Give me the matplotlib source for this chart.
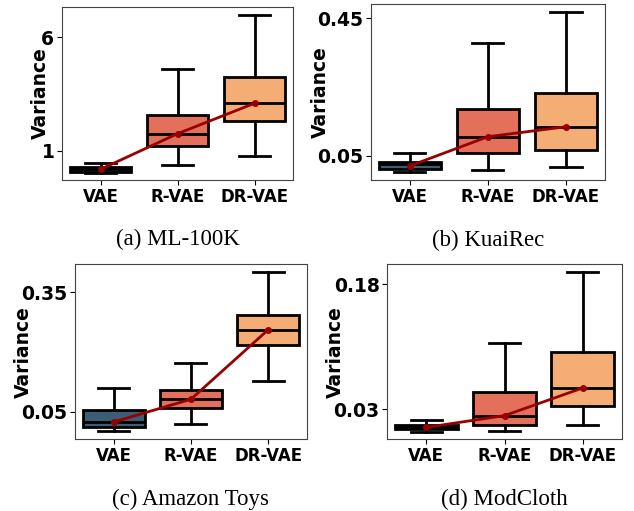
import numpy as np
import matplotlib
matplotlib.use('Agg')
import matplotlib.pyplot as plt

# five-number summaries per model
models = ['VAE', 'R-VAE', 'DR-VAE']
colors = ['#3d5d75', '#e3705a', '#f5ad76']

# (a) ML-100K
ml_whislo = [0.05, 0.37, 0.79]
ml_q1 = [0.09, 1.23, 2.33]
ml_med = [0.19, 1.76, 3.10]
ml_q3 = [0.31, 2.58, 4.26]
ml_whishi = [0.46, 4.61, 6.98]
ml_mean = [0.19, 1.76, 3.10]

# (b) KuaiRec
kr_whislo = [0.004, 0.009, 0.018]
kr_q1 = [0.012, 0.058, 0.068]
kr_med = [0.026, 0.106, 0.135]
kr_q3 = [0.032, 0.187, 0.232]
kr_whishi = [0.058, 0.379, 0.468]
kr_mean = [0.021, 0.106, 0.135]

# (c) Amazon Toys
az_whislo = [0.0, 0.019, 0.127]
az_q1 = [0.010, 0.059, 0.218]
az_med = [0.024, 0.081, 0.256]
az_q3 = [0.054, 0.1055, 0.2945]
az_whishi = [0.1105, 0.1735, 0.402]
az_mean = [0.024, 0.081, 0.256]

# (d) ModCloth
mc_whislo = [0.0032, 0.004, 0.0116]
mc_q1 = [0.0064, 0.0108, 0.034]
mc_med = [0.0084, 0.0224, 0.0556]
mc_q3 = [0.0112, 0.0512, 0.0992]
mc_whishi = [0.0168, 0.1092, 0.1952]
mc_mean = [0.0084, 0.0224, 0.0556]

yticks_a = [1, 6]
yticks_b = [0.05, 0.45]
yticks_c = [0.05, 0.35]
yticks_d = [0.03, 0.18]

panels = [
    ('(a) ML-100K', [0.0978, 0.6477, 0.3644, 0.3386], (ml_whislo, ml_q1, ml_med, ml_q3, ml_whishi), ml_mean,
     yticks_a, ['1', '6'], (-0.28, 7.34), -0.052),
    ('(b) KuaiRec', [0.5847, 0.6477, 0.3696, 0.3444], (kr_whislo, kr_q1, kr_med, kr_q3, kr_whishi), kr_mean,
     yticks_b, ['0.05', '0.45'], (-0.020, 0.492), -0.174),
    ('(c) Amazon Toys', [0.1183, 0.1409, 0.3655, 0.3419], (az_whislo, az_q1, az_med, az_q3, az_whishi), az_mean,
     yticks_c, ['0.05', '0.35'], (-0.019, 0.421), -0.18),
    ('(d) ModCloth', [0.6109, 0.1403, 0.3697, 0.3425], (mc_whislo, mc_q1, mc_med, mc_q3, mc_whishi), mc_mean,
     yticks_d, ['0.03', '0.18'], (-0.006, 0.204), -0.18),
]

fig = plt.figure(figsize=(6.34, 5.11), dpi=100)
pos = np.arange(len(models))

for caption, rect, summ, means, ticks, ticklabels, ylim, labx in panels:
    ax = fig.add_axes(rect)
    lo, q1, med, q3, hi = summ
    stats = [dict(whislo=lo[i], q1=q1[i], med=med[i], q3=q3[i], whishi=hi[i], fliers=[])
             for i in range(len(models))]
    bp = ax.bxp(stats, positions=pos, widths=0.8, patch_artist=True, showfliers=False,
                boxprops=dict(linewidth=2, edgecolor='black'),
                medianprops=dict(color='black', linewidth=2),
                whiskerprops=dict(color='black', linewidth=2),
                capprops=dict(color='black', linewidth=2))
    for patch, c in zip(bp['boxes'], colors):
        patch.set_facecolor(c)
    ax.plot(pos, means, color='#990000', lw=2, marker='o', ms=4, zorder=5)
    ax.set_xlim(-0.5, 2.5)
    ax.set_ylim(*ylim)
    ax.set_xticks(pos)
    ax.set_xticklabels(models, fontsize=12, fontweight='bold')
    ax.set_yticks(ticks)
    ax.set_yticklabels(ticklabels, fontsize=13.5, fontweight='bold')
    ax.set_ylabel('Variance', fontsize=13.5, fontweight='bold')
    ax.yaxis.set_label_coords(labx, 0.5)
    for s in ax.spines.values():
        s.set_color('#444444')
        s.set_linewidth(0.8)
    ax.tick_params(length=3.5, pad=2)
    ax.text(0.5, -0.345, caption, transform=ax.transAxes, ha='center', va='center',
            fontsize=16.5, family='Liberation Serif')

fig.savefig('out.png', dpi=100)
